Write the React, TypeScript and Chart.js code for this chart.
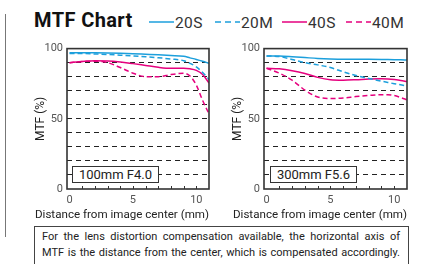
import React, { useEffect, useRef } from 'react';
import { Chart, registerables } from 'chart.js';

Chart.register(...registerables);

// ---- data ----
const X_MM = [0, 1, 2, 3, 4, 5, 6, 7, 8, 9, 9.5, 10, 10.5, 11];

// 100mm F4.0
const S20_100 = [97, 97, 97, 96.9, 96.7, 96.4, 96, 95.6, 95.1, 94.5, 93.4, 92.3, 91, 89.5];
const M20_100 = [96.5, 96.5, 96.2, 95.8, 95.3, 94.8, 94.2, 93.5, 92.6, 91.4, 89.5, 87, 83, 78];
const S40_100 = [90, 90.8, 91.3, 91.2, 90.5, 89.3, 88, 86.7, 86, 86, 85.6, 84.5, 81.5, 75.5];
const M40_100 = [90, 90.8, 91, 90, 86.5, 82.5, 80, 80, 81.5, 82.5, 80.5, 74, 63, 53.5];

// 300mm F5.6
const S20_300 = [94.8, 94.7, 94.2, 93.6, 93, 92.6, 92.4, 92.4, 92.4, 92.3, 92.2, 92.1, 92, 91.8];
const M20_300 = [94.8, 94.3, 92.3, 90, 88.4, 86.5, 83.5, 80.8, 78.8, 76.8, 75.9, 75, 74.2, 73.4];
const S40_300 = [86, 85.6, 84.3, 82.3, 79.5, 77.8, 77.5, 77.8, 78.3, 78.5, 78.4, 78, 77.3, 76.5];
const M40_300 = [86, 82.5, 77.5, 70.5, 65.5, 64.5, 64.8, 65.8, 66.6, 67.2, 67.2, 66.6, 65.2, 63.5];

const SERIES_NAMES = ['20S', '20M', '40S', '40M'];
const X_LABELS = [0, 5, 10];
const Y_TICKS = [0, 10, 20, 30, 40, 50, 60, 70, 80, 90, 100];
const Y_LABELS = [0, 50, 100];
const X_MINOR = [1, 2, 3, 4, 5, 6, 7, 8, 9, 10];
const LENS_LABELS = ['100mm F4.0', '300mm F5.6'];
const X_TITLE = 'Distance from image center (mm)';
const Y_TITLE = 'MTF (%)';
const NOTE_LINES = [
  'For the lens distortion compensation available, the horizontal axis of',
  'MTF is the distance from the center, which is compensated accordingly.',
];

const BLUE = '#1c9fdc';
const MAGENTA = '#e5007e';
const FONT = 'Roboto, "DejaVu Sans", sans-serif';

const framePlugin = {
  id: 'frame',
  afterDatasetsDraw(chart: any) {
    const { ctx, chartArea: a, scales } = chart;
    const x = scales.x;
    ctx.save();
    ctx.strokeStyle = '#333';
    ctx.lineWidth = 1;
    ctx.setLineDash([]);
    for (const v of X_MINOR) {
      const px = Math.round(x.getPixelForValue(v)) + 0.5;
      ctx.beginPath();
      ctx.moveTo(px, a.bottom);
      ctx.lineTo(px, a.bottom - 3);
      ctx.stroke();
    }
    ctx.lineWidth = 1.6;
    ctx.strokeRect(a.left, a.top, a.right - a.left, a.bottom - a.top);
    // x-axis title, right-aligned to the plot, allowed to extend left past the plot
    ctx.fillStyle = '#222';
    ctx.font = '11.6px ' + FONT;
    ctx.textAlign = 'right';
    ctx.textBaseline = 'middle';
    ctx.fillText(X_TITLE, a.right, chart.height - 9);
    ctx.restore();
  },
};

function makeConfig(series: number[][], rightPad: number): any {
  const styles = [
    { color: BLUE, dash: [] as number[] },
    { color: BLUE, dash: [5, 3] },
    { color: MAGENTA, dash: [] as number[] },
    { color: MAGENTA, dash: [5, 3] },
  ];
  return {
    type: 'line',
    data: {
      datasets: series.map((vals, i) => ({
        label: SERIES_NAMES[i],
        data: X_MM.map((x, j) => ({ x, y: vals[j] })),
        borderColor: styles[i].color,
        borderDash: styles[i].dash,
        borderWidth: 1.5,
        pointRadius: 0,
        fill: false,
        cubicInterpolationMode: 'monotone',
      })),
    },
    options: {
      animation: false,
      responsive: false,
      devicePixelRatio: 1,
      layout: { padding: { top: 7, right: rightPad, left: 0, bottom: 0 } },
      plugins: { legend: { display: false }, tooltip: { enabled: false } },
      scales: {
        x: {
          type: 'linear',
          min: -0.2,
          max: 11,
          afterBuildTicks: (s: any) => {
            s.ticks = X_LABELS.map((v) => ({ value: v }));
          },
          ticks: {
            autoSkip: false,
            maxRotation: 0,
            padding: 5,
            color: '#555',
            font: { family: FONT, size: 11 },
            callback: (v: number) => String(v),
          },
          grid: { display: false, drawTicks: false },
          border: { display: false },
          title: { display: false },
          afterFit: (s: any) => {
            s.height = 35;
          },
        },
        y: {
          min: 0,
          max: 100,
          afterBuildTicks: (s: any) => {
            s.ticks = Y_TICKS.map((v) => ({ value: v }));
          },
          ticks: {
            autoSkip: false,
            padding: 4,
            color: '#555',
            font: { family: FONT, size: 11 },
            callback: (v: number) => (Y_LABELS.includes(v) ? String(v) : ''),
          },
          grid: {
            drawTicks: false,
            lineWidth: 1,
            color: (c: any) =>
              c.tick && (c.tick.value === 0 || c.tick.value === 100) ? 'rgba(0,0,0,0)' : '#222',
          },
          border: { display: false, dash: [5, 4] },
          title: {
            display: true,
            text: Y_TITLE,
            color: '#222',
            font: { family: FONT, size: 12 },
            padding: { top: 3.5, bottom: 0 },
          },
          afterFit: (s: any) => {
            s.width = 37;
          },
        },
      },
    },
    plugins: [framePlugin],
  };
}

function MtfCanvas({ series, left, rightPad }: { series: number[][]; left: number; rightPad: number }) {
  const ref = useRef<HTMLCanvasElement | null>(null);
  useEffect(() => {
    if (!ref.current) return;
    const chart = new Chart(ref.current, makeConfig(series, rightPad));
    return () => chart.destroy();
  }, []);
  return (
    <canvas
      ref={ref}
      width={190}
      height={186}
      style={{ position: 'absolute', left, top: 38, width: 190, height: 186 }}
    />
  );
}

function LegendItem({ x, label, color, dashed }: { x: number; label: string; color: string; dashed: boolean }) {
  return (
    <>
      <svg width={26} height={4} style={{ position: 'absolute', left: x, top: 19.5 }}>
        <line
          x1={0}
          y1={2}
          x2={25}
          y2={2}
          stroke={color}
          strokeWidth={1.5}
          strokeDasharray={dashed ? '6 4' : undefined}
        />
      </svg>
      <span
        style={{
          position: 'absolute',
          left: x + 26,
          top: 13.5,
          fontSize: 15.5,
          lineHeight: '18px',
          letterSpacing: 0.4,
          color: '#333',
          whiteSpace: 'nowrap',
        }}
      >
        {label}
      </span>
    </>
  );
}

const boxStyle = (left: number): React.CSSProperties => ({
  position: 'absolute',
  left,
  top: 166,
  width: 87,
  height: 17,
  boxSizing: 'border-box',
  border: '1px solid #333',
  background: '#fff',
  fontSize: 13,
  lineHeight: '15px',
  textAlign: 'center',
  color: '#222',
  whiteSpace: 'nowrap',
});

export default function App() {
  useEffect(() => {
    document.body.style.margin = '0';
  }, []);
  return (
    <div
      style={{
        position: 'relative',
        width: 427,
        height: 264,
        overflow: 'hidden',
        background: '#fff',
        fontFamily: FONT,
      }}
    >
      <div style={{ position: 'absolute', left: 5, top: 14, width: 1, height: 223, background: '#777' }} />
      <div
        style={{
          position: 'absolute',
          left: 34,
          top: 9,
          fontSize: 20,
          fontWeight: 700,
          lineHeight: '22px',
          letterSpacing: 0.4,
          color: '#111',
          whiteSpace: 'nowrap',
        }}
      >
        MTF Chart
      </div>
      <LegendItem x={149} label={SERIES_NAMES[0]} color={BLUE} dashed={false} />
      <LegendItem x={215} label={SERIES_NAMES[1]} color={BLUE} dashed={true} />
      <LegendItem x={282} label={SERIES_NAMES[2]} color={MAGENTA} dashed={false} />
      <LegendItem x={346} label={SERIES_NAMES[3]} color={MAGENTA} dashed={true} />

      <MtfCanvas series={[S20_100, M20_100, S40_100, M40_100]} left={30} rightPad={11} />
      <MtfCanvas series={[S20_300, M20_300, S40_300, M40_300]} left={227} rightPad={10} />

      <div style={boxStyle(72)}>{LENS_LABELS[0]}</div>
      <div style={boxStyle(270)}>{LENS_LABELS[1]}</div>

      <div
        style={{
          position: 'absolute',
          left: 34,
          top: 226,
          width: 375,
          height: 60,
          boxSizing: 'border-box',
          border: '1px solid #444',
        }}
      />
      {NOTE_LINES.map((t, i) => (
        <div
          key={i}
          style={{
            position: 'absolute',
            left: 42,
            top: 229 + i * 15.5,
            width: 358,
            fontSize: 11,
            lineHeight: '16px',
            color: '#222',
            textAlign: 'justify',
            textAlignLast: 'justify',
          }}
        >
          {t}
        </div>
      ))}
    </div>
  );
}
